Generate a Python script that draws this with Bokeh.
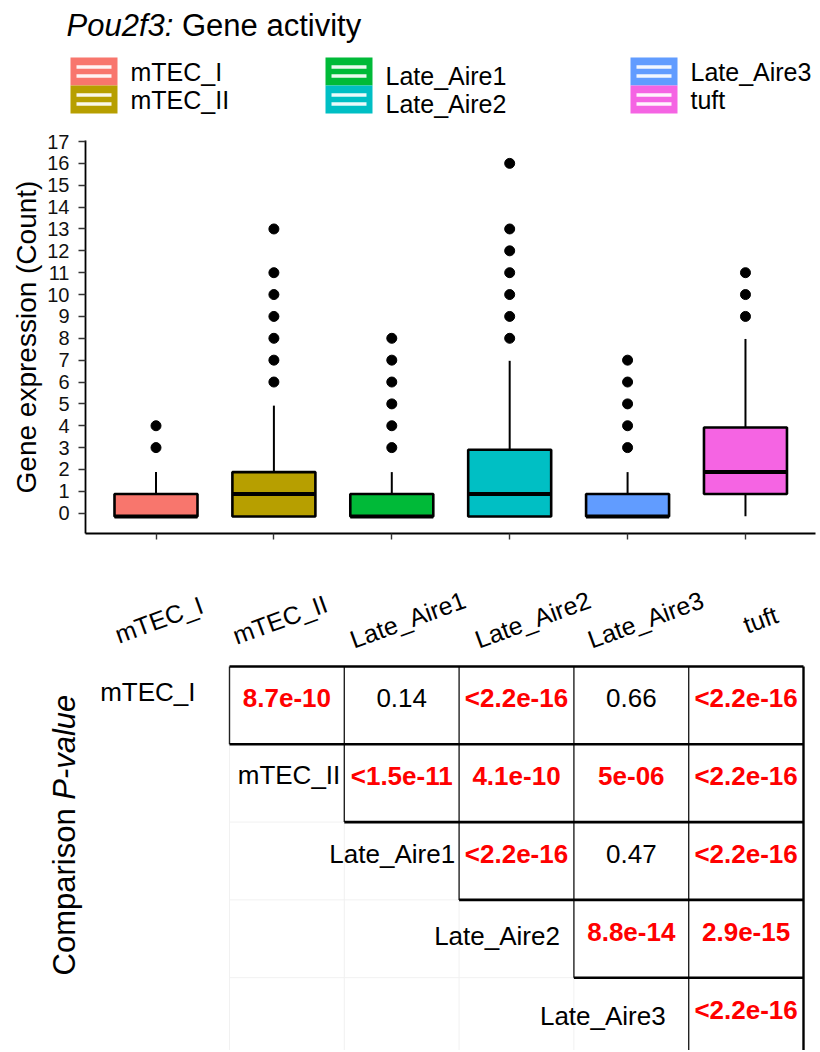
import math
from bokeh.plotting import figure
from bokeh.models import Range1d, FixedTicker
from bokeh.core.properties import value
from bokeh.embed import file_html
from bokeh.resources import INLINE

FONT = "Liberation Sans"

# ---------------- data ----------------
groups = ["mTEC_I", "mTEC_II", "Late_Aire1", "Late_Aire2", "Late_Aire3", "tuft"]
colors = ["#F8766D", "#B79F00", "#00BA38", "#00BFC4", "#619CFF", "#F564E3"]

q1 = [-0.15, -0.15, -0.15, -0.15, -0.15, 0.88]
median = [-0.15, 0.88, -0.15, 0.88, -0.15, 1.88]
q3 = [0.88, 1.88, 0.88, 2.9, 0.88, 3.92]
whisker_low = [-0.15, -0.15, -0.15, -0.15, -0.15, -0.14]
whisker_high = [1.88, 4.92, 1.88, 6.97, 1.88, 7.97]

out_mTEC_I = [3, 4]
out_mTEC_II = [6, 7, 8, 9, 10, 11, 13]
out_Late_Aire1 = [3, 4, 5, 6, 7, 8]
out_Late_Aire2 = [8, 9, 10, 11, 12, 13, 16]
out_Late_Aire3 = [3, 4, 5, 6, 7]
out_tuft = [9, 10, 11]
outliers = [out_mTEC_I, out_mTEC_II, out_Late_Aire1, out_Late_Aire2, out_Late_Aire3, out_tuft]

y_ticks = list(range(0, 18))

# upper triangle of pairwise comparison p-values (row group vs later groups)
pvalue_rows = [
    ["8.7e-10", "0.14", "<2.2e-16", "0.66", "<2.2e-16"],
    ["<1.5e-11", "4.1e-10", "5e-06", "<2.2e-16"],
    ["<2.2e-16", "0.47", "<2.2e-16"],
    ["8.8e-14", "2.9e-15"],
    ["<2.2e-16"],
]

# ---------------- helpers ----------------
ARIAL_W = {'P': .667, 'o': .556, 'u': .556, '2': .556, 'f': .278, '3': .556, ':': .278,
           ' ': .278, 'C': .722, 'm': .833, 'p': .556, 'a': .556, 'r': .333, 'i': .222,
           's': .5, 'n': .556}


def text_width(s, size):
    return sum(ARIAL_W.get(ch, .556) for ch in s) * size


W = 820


def blank(y_top, y_bottom):
    f = figure(width=W, height=int(y_bottom - y_top), x_range=Range1d(0, W),
               y_range=Range1d(y_bottom, y_top), output_backend="svg",
               toolbar_location=None, x_axis_location=None, y_axis_location=None,
               min_border=0, min_border_left=0, min_border_right=0,
               min_border_top=0, min_border_bottom=0)
    f.grid.visible = False
    f.outline_line_color = None
    f.background_fill_color = "white"
    f.border_fill_color = "white"
    return f


# ---------------- header: title + legend ----------------
head = blank(0, 120)
title_size = 31
tx = 66
ty = 25
head.text(x=[tx], y=[ty], text=["Pou2f3:"], text_font=value(FONT),
          text_font_style="italic", text_font_size=f"{title_size}px",
          text_baseline="alphabetic", text_align="left", text_color="black")
head.text(x=[tx + text_width("Pou2f3: ", title_size)], y=[ty], text=["Gene activity"],
          text_font=value(FONT), text_font_size=f"{title_size}px",
          text_baseline="alphabetic", text_align="left", text_color="black")

leg_cols_x = [70, 325, 630]
leg_text_dy = [0, 4, 0]
sw_w, sw_h, leg_top = 47, 28, 57
lefts = [leg_cols_x[i // 2] for i in range(len(groups))]
tops = [leg_top + sw_h * (i % 2) for i in range(len(groups))]
head.quad(left=lefts, right=[l + sw_w for l in lefts], top=tops,
          bottom=[t + sw_h for t in tops], fill_color=colors, line_color=None)
bar_l, bar_r, bar_t, bar_b = [], [], [], []
for l, t in zip(lefts, tops):
    c = t + sw_h / 2
    for off in (-4.5, 4.5):
        bar_l.append(l + 6)
        bar_r.append(l + sw_w - 6)
        bar_t.append(c + off - 1.7)
        bar_b.append(c + off + 1.7)
head.quad(left=bar_l, right=bar_r, top=bar_t, bottom=bar_b, fill_color="white",
          fill_alpha=0.92, line_color=None)
head.text(x=[l + 60 for l in lefts],
          y=[t + sw_h / 2 + leg_text_dy[i // 2] for i, t in enumerate(tops)],
          text=groups, text_font=value(FONT), text_font_size="25px",
          text_baseline="middle", text_align="left", text_color="black")

# ---------------- box plot ----------------
xs = list(range(1, len(groups) + 1))
x0, x1 = 0.402, 6.594
box = figure(width=W, height=440, x_range=Range1d(x0, x1),
             y_range=Range1d(-0.928, 17.046), output_backend="svg",
             toolbar_location=None, min_border_left=85, min_border_right=5,
             min_border_top=20, min_border_bottom=27)
box.grid.visible = False
box.outline_line_color = None
box.background_fill_color = "white"
box.border_fill_color = "white"

box.segment(x0=xs, x1=xs, y0=q3, y1=whisker_high, line_color="black", line_width=2)
box.segment(x0=xs, x1=xs, y0=q1, y1=whisker_low, line_color="black", line_width=2)
half = 0.352
box.vbar(x=xs, width=2 * half, bottom=q1, top=q3, fill_color=colors,
         line_color="black", line_width=2.6)
box.segment(x0=[x - half for x in xs], x1=[x + half for x in xs], y0=median, y1=median,
            line_color="black", line_width=4)
ox, oy = [], []
for x, vals in zip(xs, outliers):
    for v in vals:
        ox.append(x)
        oy.append(v)
box.scatter(x=ox, y=oy, size=10, fill_color="black", line_color="black")

box.yaxis.ticker = FixedTicker(ticks=y_ticks)
box.yaxis.axis_label = "Gene expression (Count)"
box.yaxis.axis_label_text_font = FONT
box.yaxis.axis_label_text_font_style = "normal"
box.yaxis.axis_label_text_font_size = "28px"
box.yaxis.axis_label_text_color = "black"
box.yaxis.axis_label_standoff = 2
box.yaxis.major_label_text_font = FONT
box.yaxis.major_label_text_font_size = "20px"
box.yaxis.major_label_text_color = "#111111"
box.yaxis.major_label_standoff = 9
box.yaxis.major_tick_out = 7
box.yaxis.major_tick_in = 0
box.yaxis.minor_tick_line_color = None
box.yaxis.major_tick_line_color = "#333333"
box.yaxis.major_tick_line_width = 1.4
box.yaxis.axis_line_color = "black"
box.yaxis.axis_line_width = 1.8

box.xaxis.ticker = FixedTicker(ticks=xs)
box.xaxis.major_label_overrides = {x: "" for x in xs}
box.xaxis.major_label_text_font_size = "0px"
box.xaxis.major_label_standoff = 0
box.xaxis.major_tick_out = 6
box.xaxis.major_tick_in = 0
box.xaxis.minor_tick_line_color = None
box.xaxis.major_tick_line_color = "#333333"
box.xaxis.major_tick_line_width = 1.4
box.xaxis.axis_line_color = "black"
box.xaxis.axis_line_width = 1.8

# ---------------- comparison table ----------------
tab = blank(560, 1050)

# rotated group labels (continuing the box plot's categories)
frame_l, frame_r = 85, W - 5
px_per = (frame_r - frame_l) / (x1 - x0)
tick_px = [frame_l + (x - x0) * px_per for x in xs]
xlabel_shift = [3, 6, 16, 23, 18, 15]
tab.text(x=[t + s for t, s in zip(tick_px, xlabel_shift)], y=[619] * len(groups),
         text=groups, angle=math.radians(20), text_font=value(FONT),
         text_font_size="25px", text_align="center", text_baseline="middle",
         text_color="black")

col_b = [229 + 114.8 * k for k in range(6)]
row_b = [666 + 77.8 * k for k in range(6)]
bottom_edge = 1050

# faint background grid
fx0, fx1, fy0, fy1 = [], [], [], []
for r in range(1, 5):
    fx0.append(col_b[0]); fx1.append(col_b[r]); fy0.append(row_b[r + 1]); fy1.append(row_b[r + 1])
for c in range(0, 5):
    fx0.append(col_b[c]); fx1.append(col_b[c]); fy0.append(row_b[c + 1]); fy1.append(bottom_edge)
tab.segment(x0=fx0, x1=fx1, y0=fy0, y1=fy1, line_color="#f1f1f1", line_width=1)

# thin vertical cell borders
vx, vy0, vy1 = [], [], []
for r in range(5):
    for c in range(r, 5):
        vx.append(col_b[c]); vy0.append(row_b[r]); vy1.append(min(row_b[r + 1], bottom_edge))
tab.segment(x0=vx, x1=vx, y0=vy0, y1=vy1, line_color="#222222", line_width=1.4)

# thick horizontal borders: top and each row's bottom
hx0 = [col_b[0]] + [col_b[r] for r in range(4)]
hy = [row_b[0]] + [row_b[r + 1] for r in range(4)]
tab.segment(x0=hx0, x1=[col_b[5]] * len(hx0), y0=hy, y1=hy, line_color="black",
            line_width=2.6)
# right border
tab.segment(x0=[col_b[5]], x1=[col_b[5]], y0=[row_b[0]], y1=[bottom_edge],
            line_color="black", line_width=2.4)

# cell values
sx, sy, stext, sig_flags = [], [], [], []
for r, row in enumerate(pvalue_rows):
    for k, s in enumerate(row):
        c = r + k
        sx.append((col_b[c] + col_b[c + 1]) / 2)
        sy.append((row_b[r] + row_b[r + 1]) / 2 - 7)
        stext.append(s)
        sig_flags.append(float(s.lstrip("<")) < 0.05)
tab.text(x=[x for x, f in zip(sx, sig_flags) if f], y=[y for y, f in zip(sy, sig_flags) if f],
         text=[t for t, f in zip(stext, sig_flags) if f], text_font=value(FONT),
         text_font_style="bold", text_font_size="26px", text_color="#FF0000",
         text_align="center", text_baseline="middle")
tab.text(x=[x for x, f in zip(sx, sig_flags) if not f],
         y=[y for y, f in zip(sy, sig_flags) if not f],
         text=[t for t, f in zip(stext, sig_flags) if not f], text_font=value(FONT),
         text_font_size="26px", text_color="black", text_align="center",
         text_baseline="middle")

# row labels
label_gap = [34, 4, 4, 14, 23]
label_dy = [-13, -8, -7, -3, -1]
tab.text(x=[col_b[r] - label_gap[r] for r in range(5)],
         y=[(row_b[r] + row_b[r + 1]) / 2 + label_dy[r] for r in range(5)],
         text=groups[:5], text_font=value(FONT), text_font_size="26px",
         text_color="black", text_align="right", text_baseline="middle")

# side label "Comparison P-value"
side_size = 31
sx0, sy0 = 64, 975
tab.text(x=[sx0], y=[sy0], text=["Comparison"], angle=math.pi / 2,
         text_font=value(FONT), text_font_size=f"{side_size}px", text_color="black",
         text_align="left", text_baseline="alphabetic")
tab.text(x=[sx0], y=[sy0 - text_width("Comparison ", side_size)], text=["P-value"],
         angle=math.pi / 2, text_font=value(FONT), text_font_style="italic",
         text_font_size=f"{side_size}px", text_color="black", text_align="left",
         text_baseline="alphabetic")

open("out.html", "w").write(file_html([head, box, tab], INLINE))
